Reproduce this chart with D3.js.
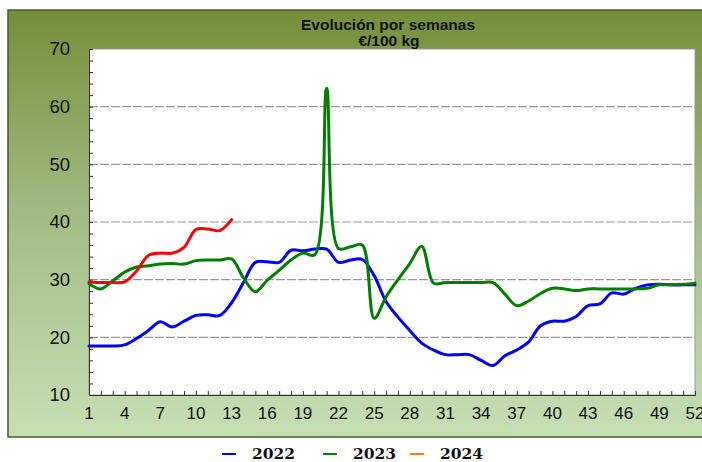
<!DOCTYPE html>
<html><head><meta charset="utf-8">
<script src="https://cdn.jsdelivr.net/npm/d3@7"></script>
<style>html,body{margin:0;padding:0;background:#fff;overflow:hidden}</style>
</head><body>
<svg id="c" width="702" height="462"></svg>
<script>
const weeks = d3.range(1, 53);
const xTickLabels = [1,4,7,10,13,16,19,22,25,28,31,34,37,40,43,46,49,52];
const yTickLabels = [10,20,30,40,50,60,70];
const v2022 = [18.5,18.5,18.5,18.7,19.8,21.2,22.7,21.8,22.8,23.8,23.9,23.8,26.0,29.5,33.0,33.1,33.0,35.1,35.0,35.3,35.3,33.0,33.4,33.5,30.7,26.2,23.5,21.2,19.0,17.8,17.0,17.0,17.0,16.0,15.1,16.8,17.8,19.2,22.0,22.8,22.8,23.6,25.5,25.8,27.7,27.5,28.5,29.1,29.2,29.1,29.1,29.1];
const v2023 = [29.3,28.4,29.8,31.3,32.2,32.4,32.7,32.8,32.7,33.3,33.4,33.4,33.6,30.3,27.9,29.9,31.6,33.4,34.6,34.3,63.2,35.4,35.7,36.0,23.3,27.0,30.0,32.8,35.8,29.4,29.5,29.5,29.5,29.5,29.5,27.5,25.5,26.3,27.6,28.5,28.4,28.1,28.4,28.4,28.4,28.4,28.4,28.5,29.1,29.1,29.2,29.4];
const v2024 = [29.6,29.5,29.5,29.6,31.5,34.2,34.6,34.6,35.6,38.7,38.8,38.5,40.4];
const seriesNames = ["2022","2023","2024"];
const lineColors = ["#0000ff","#008000","#ff0000"];
const legendColors = ["#0000ff","#008000","#ff7f0e"];
const title1 = "Evolución por semanas";
const title2 = "€/100 kg";

const svg = d3.select("#c");
const defs = svg.append("defs");
const g = defs.append("linearGradient").attr("id","bg").attr("x1",0).attr("y1",0).attr("x2",0).attr("y2",1);
g.append("stop").attr("offset","0%").attr("stop-color","#748e39");
g.append("stop").attr("offset","45%").attr("stop-color","#9fba80");
g.append("stop").attr("offset","100%").attr("stop-color","#c6e0b5");

svg.append("rect").attr("x",8).attr("y",10).attr("width",720).attr("height",427)
  .attr("fill","url(#bg)").attr("stroke","#4a5a2a").attr("stroke-width",1.5);

const x = d3.scaleLinear().domain([1,52]).range([89,695]);
const y = d3.scaleLinear().domain([10,70]).range([395,49]);

svg.append("rect").attr("x",x(1)).attr("y",y(70)).attr("width",x(52)-x(1)).attr("height",y(10)-y(70))
  .attr("fill","#fff").attr("stroke","#999").attr("stroke-width",1);

// gridlines
svg.append("g").selectAll("line").data([20,30,40,50,60]).join("line")
  .attr("x1",x(1)).attr("x2",x(52)).attr("y1",d=>y(d)).attr("y2",d=>y(d))
  .attr("stroke","#999").attr("stroke-width",1.2).attr("stroke-dasharray","9,2");

// y axis
const yAxis = d3.axisRight(y).tickValues(d3.range(10,71,2)).tickSize(4).tickFormat("");
const ya = svg.append("g").attr("transform",`translate(${x(1)},0)`).call(yAxis);
ya.select(".domain").attr("stroke","#333");
ya.selectAll(".tick line").attr("stroke","#333");
svg.append("g").selectAll("text").data(yTickLabels).join("text")
  .attr("x",70).attr("y",d=>y(d)).attr("dy","0.35em").attr("text-anchor","end")
  .attr("font-family","Liberation Sans, Arial, sans-serif").attr("font-size",18.5).attr("fill","#111")
  .text(d=>d);

// x axis
const xAxis = d3.axisTop(x).tickValues(weeks).tickSize(4).tickFormat("");
const xa = svg.append("g").attr("transform",`translate(0,${y(10)})`).call(xAxis);
xa.select(".domain").attr("stroke","#333");
xa.selectAll(".tick line").attr("stroke","#333");
svg.append("g").selectAll("text").data(xTickLabels).join("text")
  .attr("x",d=>x(d)).attr("y",y(10)+24).attr("text-anchor","middle")
  .attr("font-family","Liberation Sans, Arial, sans-serif").attr("font-size",17).attr("fill","#111")
  .text(d=>d);

// titles
svg.append("text").attr("x",388).attr("y",29.5).attr("text-anchor","middle")
  .attr("font-family","Liberation Sans, Arial, sans-serif").attr("font-weight","bold").attr("font-size",15.5).attr("fill","#111").text(title1);
svg.append("text").attr("x",389).attr("y",45.5).attr("text-anchor","middle")
  .attr("font-family","Liberation Sans, Arial, sans-serif").attr("font-weight","bold").attr("font-size",15.5).attr("fill","#111").text(title2);

// lines
const line = d3.line().x((d,i)=>x(i+1)).y(d=>y(d)).curve(d3.curveCatmullRom.alpha(0.5));
const allSeries = [v2022, v2023, v2024];
svg.append("g").selectAll("path").data(allSeries).join("path")
  .attr("d",d=>line(d)).attr("fill","none")
  .attr("stroke",(d,i)=>lineColors[i]).attr("stroke-width",3).attr("stroke-linejoin","round").attr("stroke-linecap","round");

// legend
const legX = [222, 323, 410];
const lg = svg.append("g");
seriesNames.forEach((n,i)=>{
  lg.append("line").attr("x1",legX[i]).attr("x2",legX[i]+14).attr("y1",454).attr("y2",454)
    .attr("stroke",legendColors[i]).attr("stroke-width",2);
  lg.append("text").attr("x",legX[i]+30).attr("y",459)
    .attr("font-family","DejaVu Serif, Georgia, serif").attr("font-weight","bold").attr("font-size",15.5).attr("fill","#111").text(n);
});
</script>
</body></html>
